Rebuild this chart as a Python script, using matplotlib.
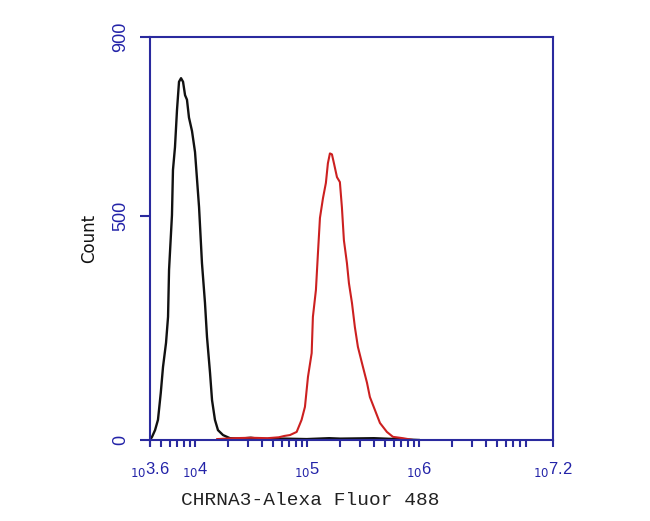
import matplotlib
matplotlib.use("Agg")
import matplotlib.pyplot as plt
import numpy as np

# values: log10 fluorescence vs count
black_logx = [3.60, 3.618, 3.645, 3.671, 3.696, 3.716, 3.743, 3.761, 3.770, 3.796,
              3.805, 3.823, 3.841, 3.859, 3.877, 3.895, 3.913, 3.930, 3.948, 3.975,
              4.002, 4.038, 4.064, 4.091, 4.109, 4.136, 4.154, 4.180, 4.207, 4.252,
              4.314, 4.40, 4.50, 4.60, 4.80, 5.00, 5.20, 5.30, 5.60, 5.80, 6.00]
black_counts = [0, 7, 22, 45, 105, 163, 217, 275, 380, 502,
                603, 654, 737, 800, 808, 800, 770, 760, 720, 690,
                643, 520, 395, 306, 230, 150, 89, 45, 22, 11,
                4, 3, 5, 2, 3, 2, 4, 3, 4, 2, 0]

red_logx = [4.20, 4.35, 4.50, 4.65, 4.75, 4.80, 4.850, 4.910, 4.954, 4.984,
            5.011, 5.044, 5.055, 5.082, 5.100, 5.118, 5.145, 5.171, 5.189, 5.207,
            5.225, 5.243, 5.270, 5.296, 5.314, 5.332, 5.359, 5.377, 5.404, 5.430,
            5.457, 5.493, 5.538, 5.564, 5.609, 5.654, 5.716, 5.770, 5.859, 5.95]
red_counts = [2, 4, 5, 4, 6, 9, 11, 18, 45, 74,
              141, 194, 275, 335, 417, 496, 540, 574, 618, 640,
              638, 618, 587, 576, 520, 446, 395, 350, 306, 252,
              208, 172, 128, 96, 67, 38, 18, 7, 4, 0]

x_tick_exps = [3.6, 4, 5, 6, 7.2]
x_tick_labels = ["3.6", "4", "5", "6", "7.2"]
y_ticks = [0, 500, 900]

axis_blue = "#2a2a9e"
label_blue = "#2323a8"

fig = plt.figure(figsize=(6.5, 5.21), dpi=100)
ax = fig.add_axes([0.2308, 0.1555, 0.62, 0.7735])

ax.plot(10 ** np.array(black_logx), black_counts, color="#111111", lw=1.7)
ax.plot(10 ** np.array(red_logx), red_counts, color="#cc2020", lw=1.5)

ax.set_xscale("log")
ax.set_xlim(10 ** 3.6, 10 ** 7.2)
ax.set_ylim(0, 900)

for s in ax.spines.values():
    s.set_color(axis_blue)
    s.set_linewidth(1.5)

# x ticks: decade + minor ticks, all the same length, labels drawn by hand
major = [10 ** e for e in x_tick_exps]
minor = [m * 10 ** d for d in range(3, 8) for m in range(2, 10)
         if 10 ** 3.6 < m * 10 ** d < 10 ** 7.2]
ax.set_xticks(major)
ax.set_xticks(minor, minor=True)
ax.set_xticklabels([])
ax.tick_params(axis="x", which="both", direction="out", length=5, width=1.5,
               color=axis_blue, labelbottom=False)
for e, lab in zip(x_tick_exps, x_tick_labels):
    ax.text(10 ** e, -0.05, "$_{10}$" + lab, transform=ax.get_xaxis_transform(),
            ha="center", va="top", fontsize=12, color=label_blue,
            family="Liberation Sans")

ax.set_yticks(y_ticks)
ax.set_yticklabels([str(v) for v in y_ticks], rotation=90, va="center",
                   fontsize=13, color=label_blue, family="Liberation Sans")
ax.tick_params(axis="y", direction="out", length=7, width=1.5, color=axis_blue, pad=8)
ax.yaxis.set_minor_locator(matplotlib.ticker.NullLocator())

ax.set_ylabel("Count", fontsize=12, color="#111111")
ax.yaxis.set_label_coords(-0.13, 0.5)
ax.set_xlabel("CHRNA3-Alexa Fluor 488", fontsize=14, family="Liberation Mono",
              color="#222222")
ax.xaxis.set_label_coords(0.397, -0.128)

fig.savefig("out.png", dpi=100)
